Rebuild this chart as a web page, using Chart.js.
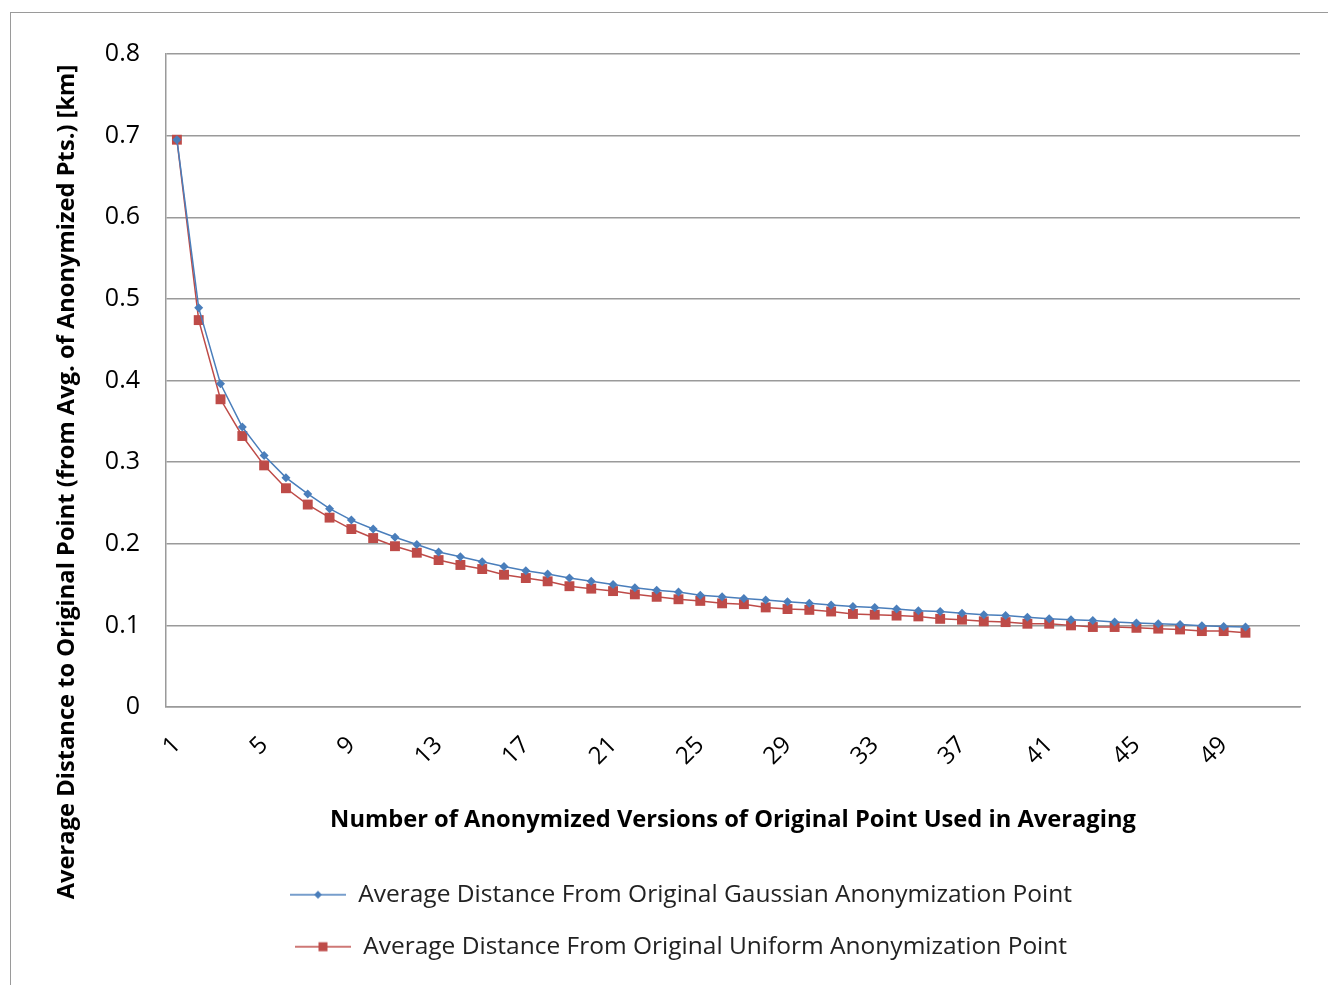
<!DOCTYPE html>
<html>
<head>
<meta charset="utf-8">
<script src="https://cdn.jsdelivr.net/npm/chart.js@4.4.1/dist/chart.umd.min.js"></script>
<style>
  html, body { margin: 0; padding: 0; background: #fff; overflow: hidden; }
  #frame { position: absolute; left: 10px; top: 12px; width: 1400px; height: 1000px; border: 1.5px solid #9a9a9a; box-sizing: border-box; }
  #wrap { position: absolute; left: 0; top: 0; width: 1328px; height: 985px; }
</style>
</head>
<body>
<div id="frame"></div>
<div id="wrap"><canvas id="c" width="1328" height="985"></canvas></div>
<script>
// The category axis holds 52 slots (ticks 1, 5, ... 49 labelled); data runs 1..50.
const categories = Array.from({length: 52}, (_, i) => String(i + 1));
const tickLabels = ['1', '5', '9', '13', '17', '21', '25', '29', '33', '37', '41', '45', '49'];

const gaussianValues = [
  0.695, 0.489, 0.396, 0.343, 0.308, 0.281, 0.261, 0.243, 0.229, 0.218,
  0.208, 0.199, 0.190, 0.184, 0.178, 0.172, 0.167, 0.163, 0.158, 0.154,
  0.150, 0.146, 0.143, 0.141, 0.137, 0.135, 0.133, 0.131, 0.129, 0.127,
  0.125, 0.123, 0.122, 0.120, 0.118, 0.117, 0.115, 0.113, 0.112, 0.110,
  0.108, 0.107, 0.106, 0.104, 0.103, 0.102, 0.101, 0.0995, 0.0986, 0.0980
];

const uniformValues = [
  0.695, 0.474, 0.377, 0.332, 0.296, 0.268, 0.248, 0.232, 0.218, 0.207,
  0.197, 0.189, 0.180, 0.174, 0.169, 0.162, 0.158, 0.154, 0.148, 0.145,
  0.142, 0.138, 0.135, 0.132, 0.130, 0.127, 0.126, 0.122, 0.120, 0.119,
  0.117, 0.114, 0.113, 0.112, 0.111, 0.108, 0.107, 0.105, 0.104, 0.102,
  0.102, 0.100, 0.098, 0.098, 0.097, 0.096, 0.095, 0.093, 0.093, 0.091
];

const seriesNames = [
  'Average Distance From Original Gaussian Anonymization Point',
  'Average Distance From Original Uniform Anonymization Point'
];

const yTitle = 'Average Distance to Original Point (from Avg. of Anonymized Pts.) [km]';
const xTitle = 'Number of Anonymized Versions of Original Point Used in Averaging';

const BLUE = '#4a7ebb';
const RED = '#be4b48';
const FONT = "'Open Sans', 'Noto Sans', sans-serif";

function legendIcon(color, style) {
  const cv = document.createElement('canvas');
  cv.width = 56; cv.height = 14;
  const g = cv.getContext('2d');
  g.strokeStyle = color; g.lineWidth = 1.5;
  g.beginPath(); g.moveTo(0, 7); g.lineTo(56, 7); g.stroke();
  g.fillStyle = color;
  if (style === 'rectRot') {
    g.beginPath(); g.moveTo(28, 3); g.lineTo(32, 7); g.lineTo(28, 11); g.lineTo(24, 7); g.closePath(); g.fill();
  } else {
    g.fillRect(23.5, 2.5, 9, 9);
  }
  return cv;
}

const yTitlePlugin = {
  id: 'yTitlePlugin',
  afterDraw(chart) {
    const ctx = chart.ctx;
    ctx.save();
    ctx.translate(67, 482);
    ctx.rotate(-Math.PI / 2);
    ctx.font = "bold 23.7px " + FONT;
    ctx.fillStyle = '#000';
    ctx.textAlign = 'center';
    ctx.textBaseline = 'middle';
    ctx.fillText(yTitle, 0, 0);
    ctx.restore();
  }
};

new Chart(document.getElementById('c'), {
  type: 'line',
  data: {
    labels: categories,
    datasets: [
      {
        label: seriesNames[0],
        data: gaussianValues,
        borderColor: BLUE,
        backgroundColor: BLUE,
        borderWidth: 1.5,
        pointStyle: 'rectRot',
        pointRadius: 4.5,
        pointBorderWidth: 0,
        tension: 0,
        icon: legendIcon(BLUE, 'rectRot')
      },
      {
        label: seriesNames[1],
        data: uniformValues,
        borderColor: RED,
        backgroundColor: RED,
        borderWidth: 1.5,
        pointStyle: 'rect',
        pointRadius: 7,
        pointBorderWidth: 0,
        tension: 0,
        icon: legendIcon(RED, 'rect')
      }
    ]
  },
  options: {
    responsive: false,
    animation: false,
    devicePixelRatio: 1,
    layout: { padding: { top: 54, right: 28, left: 62, bottom: 16 } },
    plugins: {
      tooltip: { enabled: false },
      legend: {
        position: 'bottom',
        labels: {
          usePointStyle: true,
          pointStyleWidth: 56,
          padding: 27.5,
          color: '#222',
          font: { family: FONT, size: 24.5 },
          generateLabels(chart) {
            return chart.data.datasets.map((ds, i) => ({
              text: ds.label,
              pointStyle: ds.icon,
              fillStyle: ds.borderColor,
              strokeStyle: ds.borderColor,
              lineWidth: 0,
              hidden: false,
              datasetIndex: i,
              fontColor: '#222'
            }));
          }
        }
      }
    },
    scales: {
      x: {
        type: 'category',
        offset: true,
        grid: { display: false, drawTicks: false },
        border: { display: true, color: '#9a9a9a', width: 1.5 },
        ticks: {
          autoSkip: false,
          minRotation: 45,
          maxRotation: 45,
          padding: 24,
          color: '#000',
          font: { family: FONT, size: 24 },
          callback(value, index) { return index % 4 === 0 ? tickLabels[index / 4] : ''; }
        },
        title: {
          display: true,
          text: xTitle,
          color: '#000',
          font: { family: FONT, size: 23.7, weight: 'bold' },
          padding: { top: 0, bottom: 21 }
        },
        afterFit(scale) { scale.height = 148; scale.paddingLeft = 0; scale.paddingRight = 0; }
      },
      y: {
        min: 0,
        max: 0.8,
        grid: { color: '#9a9a9a', lineWidth: 1.5, drawTicks: false },
        border: { display: true, color: '#9a9a9a', width: 1.5 },
        ticks: {
          stepSize: 0.1,
          padding: 26,
          color: '#000',
          font: { family: FONT, size: 25 },
          callback(v) { return Number(v.toFixed(1)).toString(); }
        },
        afterFit(scale) { scale.width = 104; }
      }
    }
  },
  plugins: [yTitlePlugin]
});
</script>
</body>
</html>
